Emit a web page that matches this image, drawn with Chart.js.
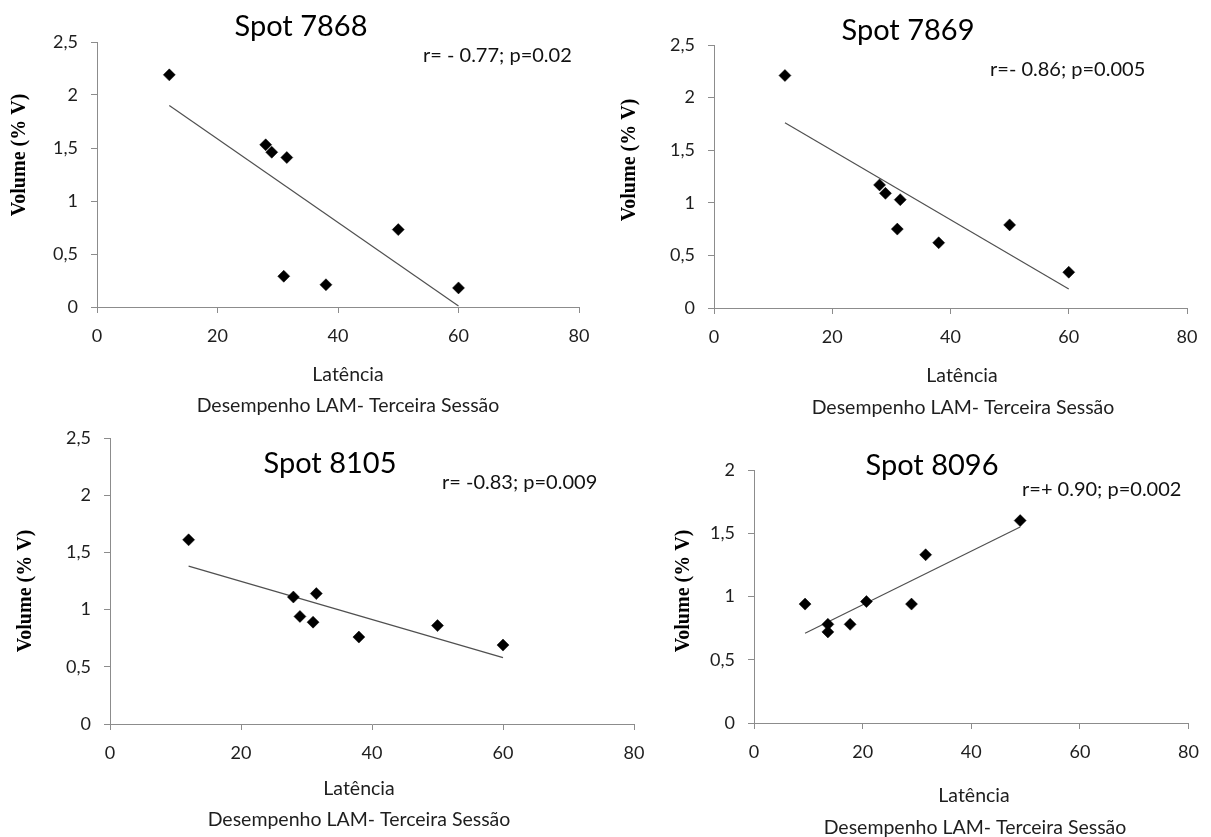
<!DOCTYPE html>
<html>
<head>
<meta charset="utf-8">
<script src="https://cdn.jsdelivr.net/npm/chart.js@4"></script>
<style>
  html, body { margin: 0; padding: 0; background: #fff; }
  #wrap { position: relative; width: 1211px; height: 837px; overflow: hidden; }
  #wrap canvas { position: absolute; left: 0; top: 0; }
</style>
</head>
<body>
<div id="wrap">
  <canvas id="c7868" width="1211" height="837"></canvas>
  <canvas id="c7869" width="1211" height="837"></canvas>
  <canvas id="c8105" width="1211" height="837"></canvas>
  <canvas id="c8096" width="1211" height="837"></canvas>
</div>
<script>
// latência (s) per animal, third session
const latencia = [12, 28, 29, 31.5, 31, 38, 50, 60];
const latencia8096 = [9.4, 13.6, 13.6, 17.7, 20.7, 29, 31.6, 49];

// spot volumes (% V)
const volume7868 = [2.19, 1.53, 1.46, 1.41, 0.29, 0.21, 0.73, 0.18];
const volume7869 = [2.21, 1.17, 1.09, 1.03, 0.75, 0.62, 0.79, 0.34];
const volume8105 = [1.61, 1.11, 0.94, 1.14, 0.89, 0.76, 0.86, 0.69];
const volume8096 = [0.94, 0.78, 0.72, 0.78, 0.96, 0.94, 1.33, 1.6];

// trend line end points [x, y]
const trend7868 = [[12, 1.9], [60, 0.01]];
const trend7869 = [[12, 1.76], [60, 0.18]];
const trend8105 = [[12, 1.38], [60, 0.58]];
const trend8096 = [[9.4, 0.71], [49, 1.55]];

const xTicks = [0, 20, 40, 60, 80];
const yTicks25 = [0, 0.5, 1, 1.5, 2, 2.5];
const yTicks2 = [0, 0.5, 1, 1.5, 2];

const titles = ['Spot 7868', 'Spot 7869', 'Spot 8105', 'Spot 8096'];
const stats = ['r= - 0.77; p=0.02', 'r=- 0.86; p=0.005', 'r= -0.83; p=0.009', 'r=+ 0.90; p=0.002'];
const xTitle = ['Latência', 'Desempenho LAM- Terceira Sessão'];
const yTitle = 'Volume (% V)';

const W = 1211, H = 837;
const AXIS_Y_W = 70, AXIS_X_H = 45;
const AXIS_COLOR = '#8c8c8c';
const TEXT_COLOR = '#1e1e1e';
const SANS = 'Lato, "Open Sans", sans-serif';

// plot boxes and text anchors, page pixels
const panels = [
  { id: 'c7868', x: latencia, y: volume7868, trend: trend7868, yTicks: yTicks25,
    area: { left: 97, right: 579, top: 42, bottom: 307 },
    title: [301, 27], stat: [423, 56], yt: [20, 155], xt: [[348, 375], [348, 406]] },
  { id: 'c7869', x: latencia, y: volume7869, trend: trend7869, yTicks: yTicks25,
    area: { left: 714, right: 1187, top: 45, bottom: 308 },
    title: [908, 31], stat: [990, 70], yt: [630, 160], xt: [[962, 376], [963, 408]] },
  { id: 'c8105', x: latencia, y: volume8105, trend: trend8105, yTicks: yTicks25,
    area: { left: 110, right: 634, top: 438, bottom: 724 },
    title: [330, 464], stat: [442, 483], yt: [26, 591], xt: [[359, 789], [359, 820]] },
  { id: 'c8096', x: latencia8096, y: volume8096, trend: trend8096, yTicks: yTicks2,
    area: { left: 754, right: 1191, top: 470, bottom: 723 },
    title: [932, 466], stat: [1022, 490], yt: [684, 591], xt: [[974, 796], [975, 828]] }
];

const textPlugin = {
  id: 'panelText',
  afterDraw(chart, args, opts) {
    const p = opts.panel, i = opts.index, ctx = chart.ctx;
    ctx.save();
    ctx.textBaseline = 'middle';
    ctx.fillStyle = '#000';
    ctx.textAlign = 'center';
    ctx.font = '29px ' + SANS;
    ctx.fillText(titles[i], p.title[0], p.title[1]);
    ctx.textAlign = 'left';
    ctx.font = '20px ' + SANS;
    ctx.fillStyle = '#111';
    ctx.fillText(stats[i], p.stat[0], p.stat[1]);
    ctx.textAlign = 'center';
    ctx.fillStyle = TEXT_COLOR;
    ctx.font = '19.5px ' + SANS;
    xTitle.forEach((t, k) => ctx.fillText(t, p.xt[k][0], p.xt[k][1]));
    ctx.translate(p.yt[0], p.yt[1]);
    ctx.rotate(-Math.PI / 2);
    ctx.fillStyle = '#000';
    ctx.font = 'bold 20px "Liberation Serif", "DejaVu Serif", serif';
    ctx.fillText(yTitle, 0, 0);
    ctx.restore();
  }
};

const fmt = v => String(v).replace('.', ',');

panels.forEach((p, i) => {
  const a = p.area;
  const yMax = p.yTicks[p.yTicks.length - 1];
  new Chart(document.getElementById(p.id), {
    type: 'scatter',
    data: {
      datasets: [
        {
          data: p.x.map((v, k) => ({ x: v, y: p.y[k] })),
          pointStyle: 'rectRot',
          pointRadius: 6,
          backgroundColor: '#000',
          borderColor: '#000',
          borderWidth: 0.5
        },
        {
          data: p.trend.map(d => ({ x: d[0], y: d[1] })),
          showLine: true,
          pointRadius: 0,
          borderColor: '#505050',
          borderWidth: 1.2
        }
      ]
    },
    options: {
      responsive: false,
      animation: false,
      events: [],
      layout: {
        padding: {
          left: a.left - AXIS_Y_W,
          right: W - a.right,
          top: a.top,
          bottom: H - a.bottom - AXIS_X_H
        }
      },
      plugins: {
        legend: { display: false },
        tooltip: { enabled: false },
        panelText: { panel: p, index: i }
      },
      scales: {
        x: {
          type: 'linear',
          min: 0, max: 80,
          afterFit: s => { s.height = AXIS_X_H; },
          afterBuildTicks: s => { s.ticks = xTicks.map(v => ({ value: v })); },
          grid: { drawOnChartArea: false, drawTicks: true, tickLength: 6, color: AXIS_COLOR },
          border: { display: true, color: AXIS_COLOR, width: 1 },
          ticks: { color: TEXT_COLOR, font: { family: SANS, size: 18 }, padding: 12, maxRotation: 0 }
        },
        y: {
          type: 'linear',
          min: 0, max: yMax,
          afterFit: s => { s.width = AXIS_Y_W; },
          afterBuildTicks: s => { s.ticks = p.yTicks.map(v => ({ value: v })); },
          grid: { drawOnChartArea: false, drawTicks: true, tickLength: 6, color: AXIS_COLOR },
          border: { display: true, color: AXIS_COLOR, width: 1 },
          ticks: { color: TEXT_COLOR, font: { family: SANS, size: 18 }, padding: 13, callback: fmt }
        }
      }
    },
    plugins: [textPlugin]
  });
});
</script>
</body>
</html>
